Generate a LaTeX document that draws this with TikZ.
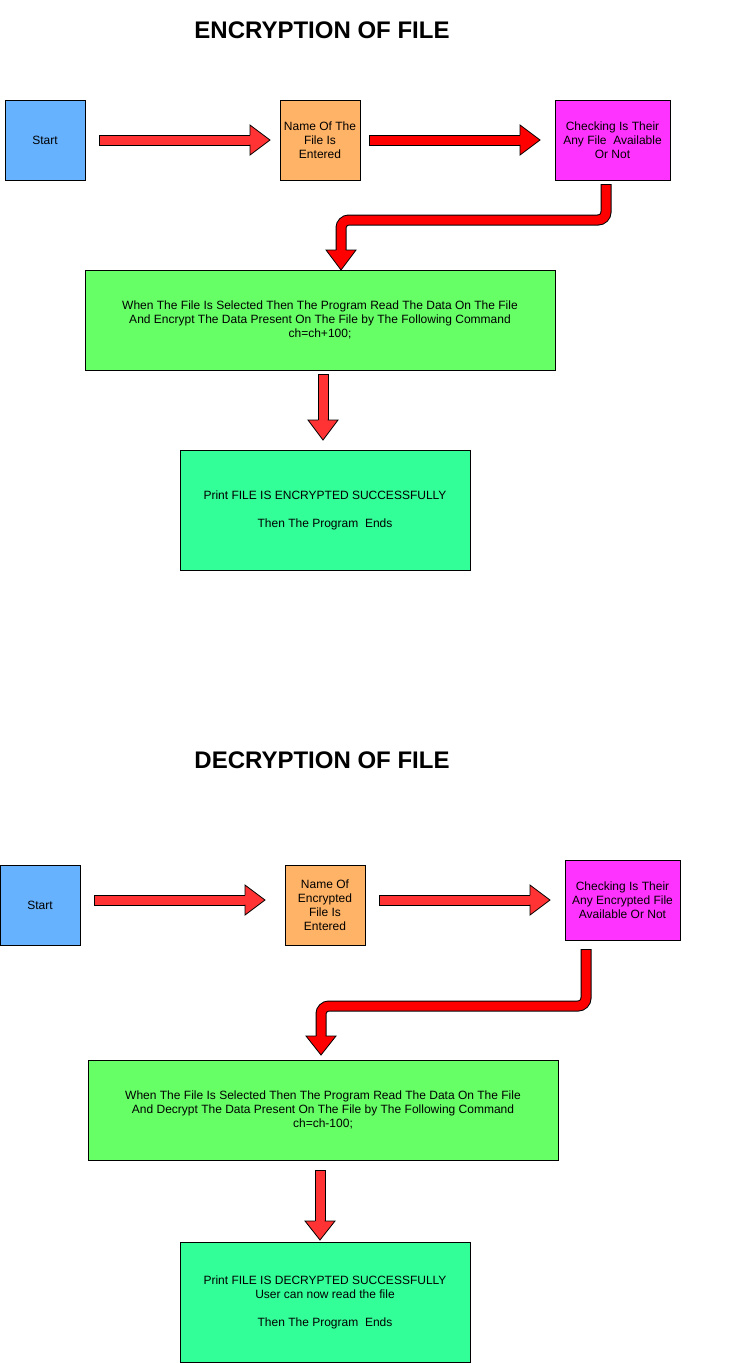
\documentclass[tikz,border=0pt]{standalone}
\usepackage{fontspec}
\setmainfont{Liberation Sans}
\usetikzlibrary{calc}
\definecolor{cstart}{HTML}{66B2FF}
\definecolor{cname}{HTML}{FFB366}
\definecolor{ccheck}{HTML}{FF33FF}
\definecolor{cgreen}{HTML}{66FF66}
\definecolor{cfinal}{HTML}{33FF99}
\definecolor{redA}{HTML}{FF3333}
\definecolor{redB}{HTML}{FF0000}
\newcommand\myshaft[2]{%
  \draw[black, line width=11pt, rounded corners=8pt, shorten <=-1pt] #2;
  \draw[#1, line width=9pt, rounded corners=8pt] #2;}
\newcommand\myhead[3]{%
  \fill[#3] ($(#1)!15pt!90:(#2)$) -- (#2) -- ($(#1)!15pt!-90:(#2)$) -- cycle;
  \draw[black, line width=0.8pt, line join=miter] ($(#1)!4.6pt!90:(#2)$) -- ($(#1)!15pt!90:(#2)$) -- (#2) -- ($(#1)!15pt!-90:(#2)$) -- ($(#1)!4.6pt!-90:(#2)$);}
\tikzset{
  box/.style={draw=black, line width=0.8pt, inner sep=0pt, outer sep=0pt, align=center,
    font=\fontsize{12}{14}\selectfont},
  sq/.style={box, minimum width=80pt, minimum height=80pt},
  chk/.style={box, fill=ccheck, minimum width=115pt, minimum height=80pt},
  big/.style={box, fill=cgreen, minimum width=470pt, minimum height=100pt},
  fin/.style={box, fill=cfinal, minimum width=290pt, minimum height=120pt},
  ttl/.style={font=\fontsize{24}{28}\selectfont\bfseries, inner sep=0pt}
}
\begin{document}
\begin{tikzpicture}[x=1pt, y=-1pt]
\useasboundingbox (0,0) rectangle (736,1363);
% ---------- Encryption ----------
\node[ttl] (t1) at (322,30) {ENCRYPTION OF FILE};
\node[sq, fill=cstart] (s1) at (45,140) {Start};
\node[sq, fill=cname] (n1) at (320,140) {Name Of The\\File Is\\Entered};
\node[chk] (c1) at (612.5,140) {Checking Is Their\\Any File~ Available\\Or Not};
\node[big] (g1) at (320,320) {When The File Is Selected Then The Program Read The Data On The File\\And Encrypt The Data Present On The File by The Following Command\\ch=ch+100;};
\node[fin] (f1) at (325,510) {Print FILE IS ENCRYPTED SUCCESSFULLY\\[14pt]Then The Program~ Ends};
% arrows
\coordinate (a1s) at (100,140); \coordinate (a1h) at (250,140); \coordinate (a1e) at (270,140);
\coordinate (a2s) at (370,140); \coordinate (a2h) at (520,140); \coordinate (a2e) at (540,140);
\coordinate (b1s) at (606,185); \coordinate (b1c) at (606,220); \coordinate (b1d) at (341,220);
\coordinate (b1h) at (341,250); \coordinate (b1e) at (341,270);
\coordinate (d1s) at (323,375); \coordinate (d1h) at (323,420); \coordinate (d1e) at (323,440);
\myshaft{redA}{(a1s) -- ($(a1h)!1pt!(a1e)$)}
\myhead{a1h}{a1e}{redA}
\myshaft{redB}{(a2s) -- ($(a2h)!1pt!(a2e)$)}
\myhead{a2h}{a2e}{redB}
\myshaft{redB}{(b1s) -- (b1c) -- (b1d) -- ($(b1h)!1pt!(b1e)$)}
\myhead{b1h}{b1e}{redB}
\myshaft{redA}{(d1s) -- ($(d1h)!1pt!(d1e)$)}
\myhead{d1h}{d1e}{redA}
% ---------- Decryption ----------
\node[ttl] (t2) at (322,760) {DECRYPTION OF FILE};
\node[sq, fill=cstart] (s2) at (40,905) {Start};
\node[sq, fill=cname] (n2) at (325,905) {Name Of\\Encrypted\\File Is\\Entered};
\node[chk] (c2) at (622.5,900) {Checking Is Their\\Any Encrypted File\\Available Or Not};
\node[big] (g2) at (323,1110) {When The File Is Selected Then The Program Read The Data On The File\\And Decrypt The Data Present On The File by The Following Command\\ch=ch-100;};
\node[fin] (f2) at (325,1302) {Print FILE IS DECRYPTED SUCCESSFULLY\\User can now read the file\\[14pt]Then The Program~ Ends};
\coordinate (a3s) at (95,900); \coordinate (a3h) at (245,900); \coordinate (a3e) at (265,900);
\coordinate (a4s) at (380,900); \coordinate (a4h) at (530,900); \coordinate (a4e) at (550,900);
\coordinate (b2s) at (586,950); \coordinate (b2c) at (586,1006); \coordinate (b2d) at (321,1006);
\coordinate (b2h) at (321,1036); \coordinate (b2e) at (321,1055);
\coordinate (d2s) at (320,1171); \coordinate (d2h) at (320,1221); \coordinate (d2e) at (320,1240);
\myshaft{redA}{(a3s) -- ($(a3h)!1pt!(a3e)$)}
\myhead{a3h}{a3e}{redA}
\myshaft{redA}{(a4s) -- ($(a4h)!1pt!(a4e)$)}
\myhead{a4h}{a4e}{redA}
\myshaft{redB}{(b2s) -- (b2c) -- (b2d) -- ($(b2h)!1pt!(b2e)$)}
\myhead{b2h}{b2e}{redB}
\myshaft{redA}{(d2s) -- ($(d2h)!1pt!(d2e)$)}
\myhead{d2h}{d2e}{redA}
\end{tikzpicture}
\end{document}
